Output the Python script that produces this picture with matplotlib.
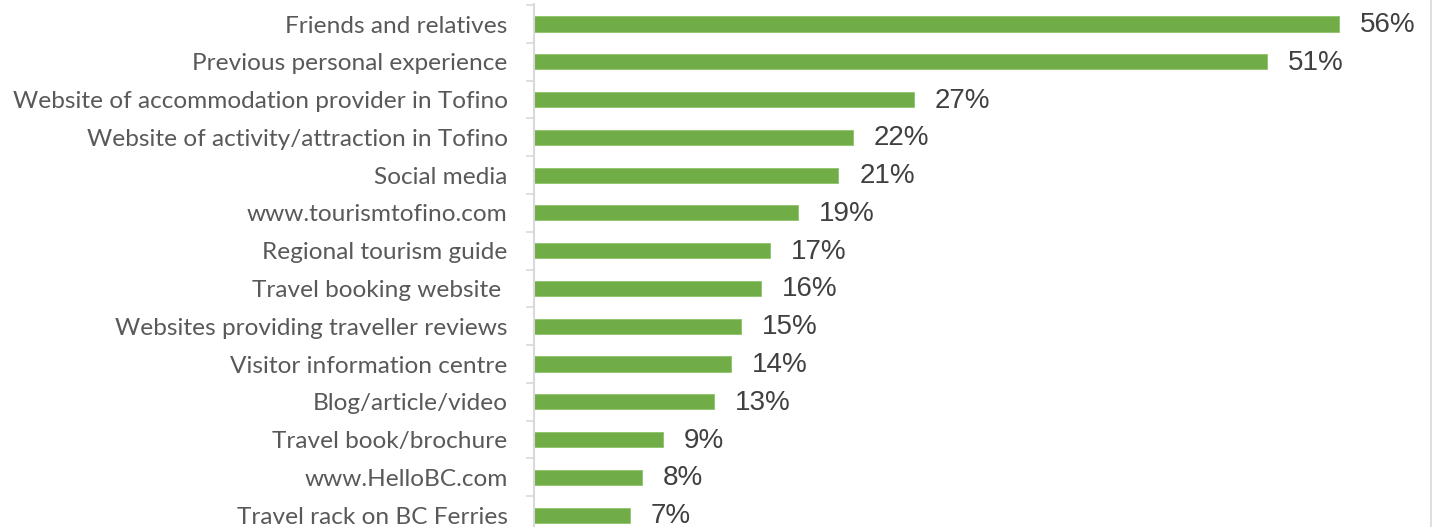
import matplotlib
matplotlib.use("Agg")
import matplotlib.pyplot as plt
from matplotlib.lines import Line2D
from matplotlib.ticker import FixedLocator

categories = [
    "Friends and relatives",
    "Previous personal experience",
    "Website of accommodation provider in Tofino",
    "Website of activity/attraction in Tofino",
    "Social media",
    "www.tourismtofino.com",
    "Regional tourism guide",
    "Travel booking website ",
    "Websites providing traveller reviews",
    "Visitor information centre",
    "Blog/article/video",
    "Travel book/brochure",
    "www.HelloBC.com",
    "Travel rack on BC Ferries",
]
values = [56, 51, 27, 22, 21, 19, 17, 16, 15, 14, 13, 9, 8, 7]
# shares as drawn (bar lengths), labels show rounded values
shares = [56.0, 51.0, 26.6, 22.4, 21.4, 18.6, 16.7, 16.05, 14.7, 14.0, 12.8, 9.3, 7.8, 7.0]

W, H = 1432, 527
fig = plt.figure(figsize=(W / 100, H / 100), dpi=100)
ax = fig.add_axes([534 / W, -7 / H, 1 - 534 / W, 530 / H])

ypos = list(range(len(categories)))
ax.barh(ypos, shares, height=0.4, color="#70AD47", edgecolor="#8CC26A", linewidth=0.6)

for y, v, s in zip(ypos, values, shares):
    ax.annotate(f"{v}%", xy=(s, y), xytext=(21, -1), textcoords="offset pixels",
                ha="left", va="center", fontsize=20, color="#404040",
                family="Liberation Sans")

ax.set_xlim(0.37, (W - 528.7) / 14.47)
ax.set_ylim(13.5, -0.53)

ax.set_yticks(ypos)
ax.set_yticklabels(categories, fontsize=17.6, color="#595959", family="Lato")
ax.tick_params(axis="y", which="major", length=0, pad=19)
ax.yaxis.set_minor_locator(FixedLocator([i - 0.5 for i in range(len(categories) + 1)]))
ax.tick_params(axis="y", which="minor", length=6, width=1.2, color="#D9D9D9")
ax.set_xticks([])

for side in ["top", "right", "bottom"]:
    ax.spines[side].set_visible(False)
ax.spines["left"].set_color("#D9D9D9")
ax.spines["left"].set_linewidth(1.5)

fig.add_artist(Line2D([1 - 1 / W, 1 - 1 / W], [0, 1], color="#D9D9D9", linewidth=1.2))

fig.savefig("out.png", dpi=100)
